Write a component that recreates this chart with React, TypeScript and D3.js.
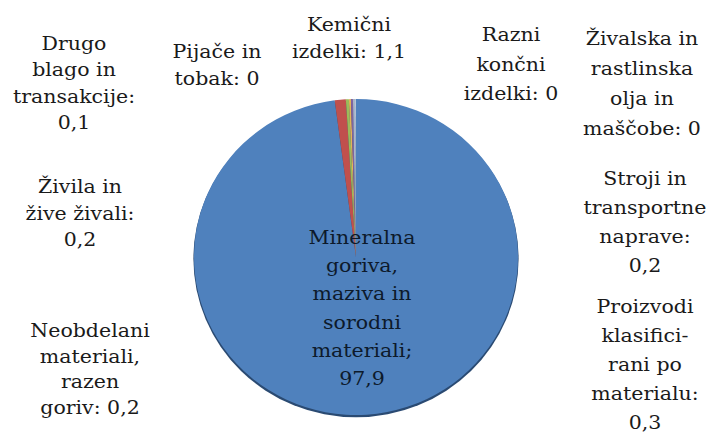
import React from "react";
import * as d3 from "d3";

// ---- data ----
const categories = [
  "Mineralna goriva, maziva in sorodni materiali",
  "Kemični izdelki",
  "Proizvodi klasificirani po materialu",
  "Stroji in transportne naprave",
  "Neobdelani materiali, razen goriv",
  "Živila in žive živali",
  "Drugo blago in transakcije",
  "Pijače in tobak",
  "Razni končni izdelki",
  "Živalska in rastlinska olja in maščobe",
];
const values = [97.9, 1.1, 0.3, 0.2, 0.2, 0.2, 0.1, 0, 0, 0];
const colors = [
  "#4F81BD",
  "#C0504D",
  "#9BBB59",
  "#E3B35A",
  "#8064A2",
  "#A9B4C8",
  "#B9C7D6",
  "#4BACC6",
  "#F79646",
  "#7F7F7F",
];
// label text, already wrapped the way the reference shows it
const labelLines: string[][] = [
  ["Mineralna", "goriva,", "maziva in", "sorodni", "materiali;", "97,9"],
  ["Kemični", "izdelki: 1,1"],
  ["Proizvodi", "klasifici-", "rani po", "materialu:", "0,3"],
  ["Stroji in", "transportne", "naprave:", "0,2"],
  ["Neobdelani", "materiali,", "razen", "goriv: 0,2"],
  ["Živila in", "žive živali:", "0,2"],
  ["Drugo", "blago in", "transakcije:", "0,1"],
  ["Pijače in", "tobak: 0"],
  ["Razni", "končni", "izdelki: 0"],
  ["Živalska in", "rastlinska", "olja in", "maščobe: 0"],
];

// ---- layout (positions of the data labels: centre x, first baseline, line step) ----
const labelPos: [number, number, number][] = [
  [362, 244, 28.2],
  [349, 31, 27],
  [645, 313, 29],
  [645, 185, 29],
  [90, 337, 25.7],
  [80, 193, 26.5],
  [74, 50, 26.3],
  [217, 58, 27],
  [511, 41, 29.5],
  [642, 45, 30],
];

const W = 712;
const H = 440;
const cx = 356;
const cy = 257;
const R = 160;

export default function App() {
  const pie = d3
    .pie<number>()
    .sort(null)
    .value((d) => d)
    .startAngle(0)
    .endAngle(2 * Math.PI);
  const arcs = pie(values);
  const arc = d3.arc<d3.PieArcDatum<number>>().innerRadius(0).outerRadius(R);

  return (
    <svg
      width={W}
      height={H}
      fontFamily="DejaVu Serif"
      style={{ position: "absolute", left: 0, top: 0, fontFamily: '"DejaVu Serif"' }}
    >
      <rect x={0} y={0} width={W} height={H} fill="#ffffff" />
      <g transform={`translate(${cx},${cy}) scale(${162 / R},${158 / R})`}>
        <circle cx={0} cy={1.8} r={R + 0.6} fill="#2a4a72" />
        {arcs.map((a, i) => (
          <path key={i} d={arc(a) || ""} fill={colors[i]} />
        ))}
      </g>
      {labelLines.map((lines, i) => {
        const [x, y, step] = labelPos[i];
        return lines.map((l, j) => (
          <text
            key={i + "-" + j}
            x={0}
            y={0}
            transform={`translate(${x},${y + j * step}) scale(1.08,1)`}
            textAnchor="middle"
            fontFamily="DejaVu Serif"
            style={{
              fontFamily: '"DejaVu Serif"',
              fontSize: "19px",
              fill: i === 0 ? "#0d1a2b" : "#1a1a1a",
            }}
          >
            {l}
          </text>
        ));
      })}
    </svg>
  );
}
